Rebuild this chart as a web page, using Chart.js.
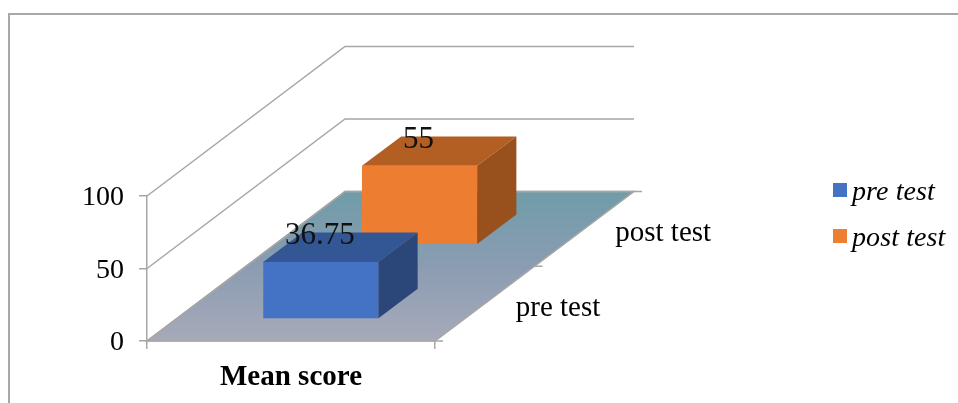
<!DOCTYPE html>
<html>
<head>
<meta charset="utf-8">
<title>Mean score</title>
<script src="https://cdn.jsdelivr.net/npm/chart.js@4"></script>
<style>
  html, body { margin: 0; padding: 0; background: #fff; }
  #wrap { position: relative; width: 958px; height: 403px; overflow: hidden; }
  #frame { position: absolute; left: 8px; top: 13px; right: -4px; bottom: -4px; border: 2px solid #a8a8a8; }
  canvas { position: absolute; left: 0; top: 0; }
  .key { position: absolute; left: 833px; height: 14px; font: italic 28px "Liberation Serif", serif; color: #000; white-space: nowrap; }
  .key i { position: absolute; left: 0; top: 0; width: 14px; height: 14px; }
  .key span { position: absolute; left: 19px; top: -8px; line-height: 32px; letter-spacing: 0.1px; }
</style>
</head>
<body>
<div id="wrap">
  <div id="frame"></div>
  <canvas id="chart" width="958" height="403"></canvas>
  <div id="legend"></div>
</div>
<script>
// ----- DATA -----
const categories = ["Mean score"];
const seriesNames = ["pre test", "post test"];
const preTest = [36.75];
const postTest = [55];
const valueTicks = [0, 50, 100];

// ----- 3D LOOK -----
const SERIF = '"Liberation Serif", serif';
const AXIS_GREY = "#a6a6a6";
const frontColors = ["#4472c4", "#ed7d31"];
const topColors = ["#335694", "#b35f24"];
const sideColors = ["#2b4679", "#98501c"];
const depthX = 199;         // how far the floor runs right going back
const depthY = 149.5;       // and how far up
const barDepth = 0.197;     // share of the floor depth taken by one bar
const nearGrowth = [1.07, 0.99]; // perspective: nearer bar looks a bit taller

// centre of a series along the depth axis, 0 = front, 1 = back
function depthCentre(i) {
  return (i + 0.5) / seriesNames.length;
}

// shift each bar back along the floor once the scales have placed it
const shiftBars = {
  id: "shiftBars",
  afterDatasetsUpdate(chart) {
    chart.data.datasets.forEach((ds, i) => {
      const z = depthCentre(i) - 0.1 - i * 0.004;
      chart.getDatasetMeta(i).data.forEach(bar => {
        const height = (bar.base - bar.y) * nearGrowth[i];
        bar.x += depthX * z;
        bar.base -= depthY * z - 0.4;
        bar.y = bar.base - height;
      });
    });
  },
  // top and side faces of the bar that was just drawn
  afterDatasetDraw(chart, args) {
    const i = args.index;
    const c = chart.ctx;
    const dx = depthX * barDepth;
    const dy = depthY * barDepth;
    chart.getDatasetMeta(i).data.forEach(bar => {
      const l = bar.x - bar.width / 2;
      const r = bar.x + bar.width / 2;
      c.fillStyle = topColors[i];
      c.beginPath();
      c.moveTo(l, bar.y);
      c.lineTo(l + dx, bar.y - dy);
      c.lineTo(r + dx, bar.y - dy);
      c.lineTo(r, bar.y);
      c.closePath();
      c.fill();
      c.fillStyle = sideColors[i];
      c.beginPath();
      c.moveTo(r, bar.y);
      c.lineTo(r + dx, bar.y - dy);
      c.lineTo(r + dx, bar.base - dy);
      c.lineTo(r, bar.base);
      c.closePath();
      c.fill();
    });
  }
};

// walls, floor and the depth axis
const floorAndWalls = {
  id: "floorAndWalls",
  beforeDatasetsDraw(chart) {
    const c = chart.ctx;
    const { left, right, bottom } = chart.chartArea;
    const y = chart.scales.y;
    c.save();
    const grad = c.createLinearGradient(0, bottom - depthY, 0, bottom);
    grad.addColorStop(0, "#6f9ca8");
    grad.addColorStop(0.5, "#8b9cb2");
    grad.addColorStop(1, "#a6aab9");
    c.fillStyle = grad;
    c.strokeStyle = AXIS_GREY;
    c.lineWidth = 1.5;
    c.beginPath();
    c.moveTo(left, bottom);
    c.lineTo(right, bottom);
    c.lineTo(right + depthX, bottom - depthY);
    c.lineTo(left + depthX - 1, bottom - depthY);
    c.closePath();
    c.fill();
    c.stroke();

    // grid lines run back along the left wall, then across the back wall
    valueTicks.forEach(v => {
      const py = y.getPixelForValue(v);
      c.beginPath();
      c.moveTo(left, py);
      c.lineTo(left + depthX - 1, py - depthY);
      c.lineTo(right + depthX, py - depthY);
      c.stroke();
    });

    // depth axis ticks
    for (let k = 0; k <= seriesNames.length; k++) {
      const z = k / seriesNames.length;
      const tx = right + depthX * z;
      const ty = bottom - depthY * z;
      c.beginPath();
      c.moveTo(tx, ty);
      c.lineTo(tx + 8, ty);
      c.stroke();
    }
    c.restore();
  },
  afterDatasetsDraw(chart) {
    const c = chart.ctx;
    const { right, bottom } = chart.chartArea;
    c.save();
    c.fillStyle = "#000";
    c.textBaseline = "middle";

    // depth axis labels
    c.font = "29px " + SERIF;
    c.textAlign = "left";
    seriesNames.forEach((name, i) => {
      const z = depthCentre(i);
      c.fillText(name, right + depthX * z + 31, bottom - depthY * z + 5);
    });

    // value labels sit over the top face
    c.font = "31px " + SERIF;
    c.textAlign = "center";
    c.fillStyle = "#111";
    chart.data.datasets.forEach((ds, i) => {
      chart.getDatasetMeta(i).data.forEach((bar, n) => {
        c.fillText(String(ds.data[n]), bar.x - 1, bar.y - 26);
      });
    });
    c.restore();
  }
};

// ----- CHART -----
const chart = new Chart(document.getElementById("chart").getContext("2d"), {
  type: "bar",
  data: {
    labels: categories,
    datasets: [
      { label: seriesNames[0], data: preTest, backgroundColor: frontColors[0], clip: false },
      { label: seriesNames[1], data: postTest, backgroundColor: frontColors[1], clip: false }
    ]
  },
  options: {
    responsive: false,
    animation: false,
    devicePixelRatio: 1,
    grouped: false,
    barPercentage: 0.4,
    categoryPercentage: 1,
    layout: { padding: { left: 0, top: 196, right: 523, bottom: 0 } },
    plugins: { legend: { display: false }, tooltip: { enabled: false } },
    scales: {
      x: {
        afterFit: s => { s.height = 62; },
        grid: { offset: true, drawOnChartArea: false, color: AXIS_GREY, lineWidth: 1.5, tickLength: 8 },
        border: { color: AXIS_GREY, width: 1.5 },
        ticks: { color: "#000", padding: 11, maxRotation: 0, font: { family: SERIF, size: 29, weight: "bold" } }
      },
      y: {
        min: 0,
        max: 100,
        afterFit: s => { s.width = 147; },
        afterBuildTicks: s => { s.ticks = valueTicks.map(value => ({ value })); },
        grid: { drawOnChartArea: false, color: AXIS_GREY, lineWidth: 1.5, tickLength: 8 },
        border: { color: AXIS_GREY, width: 1.5 },
        ticks: { color: "#000", padding: 15, labelOffset: 2, font: { family: SERIF, size: 28 } }
      }
    }
  },
  plugins: [shiftBars, floorAndWalls]
});

// ----- LEGEND -----
const legendTops = [183, 229];
chart.data.datasets.forEach((ds, i) => {
  const key = document.createElement("div");
  key.className = "key";
  key.style.top = legendTops[i] + "px";
  key.innerHTML = `<i style="background:${ds.backgroundColor}"></i><span>${ds.label}</span>`;
  document.getElementById("legend").appendChild(key);
});
</script>
</body>
</html>
